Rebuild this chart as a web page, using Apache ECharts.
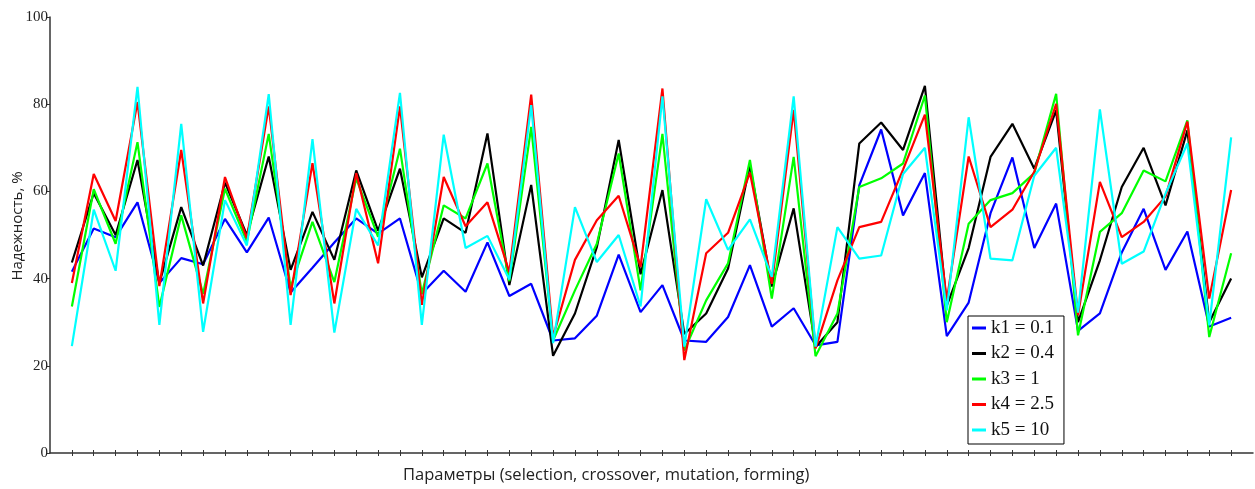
<!DOCTYPE html>
<html>
<head>
<meta charset="utf-8">
<script src="https://cdn.jsdelivr.net/npm/echarts@6/dist/echarts.min.js"></script>
<style>
  html, body { margin: 0; padding: 0; background: #fff; }
  #chart { width: 1255px; height: 489px; }
</style>
</head>
<body>
<div id="chart"></div>
<script>
// параметры (номер набора) 1..54
var params = [];
for (var n = 1; n <= 54; n++) params.push(n);

var names = ['k1 = 0.1', 'k2 = 0.4', 'k3 = 1', 'k4 = 2.5', 'k5 = 10'];
var colors = ['#0000ff', '#000000', '#00ff00', '#ff0000', '#00ffff'];

var k1 = [41.6, 51.5, 49.5, 57.5, 39, 44.7, 43.3, 53.7, 46, 54, 36.8, 42.5, 48.3, 53.8, 50.3, 53.8, 36.5, 41.8, 37, 48.3,
          36, 38.8, 25.8, 26.3, 31.5, 45.5, 32.3, 38.5, 25.8, 25.5, 31.2, 43.1, 29, 33.2, 24.7, 25.5, 61.4, 74.2, 54.5, 64.2,
          26.8, 34.5, 55, 67.8, 47, 57.2, 28, 32, 46, 56, 42, 50.8, 29, 31];
var k2 = [43.7, 59.6, 50, 67.2, 39, 56.4, 43, 62, 50, 68, 42, 55.3, 44.3, 64.8, 51, 65.2, 40.3, 53.8, 50.5, 73.3,
          38.5, 61.5, 22.3, 32, 47.2, 71.8, 41, 60.3, 27.3, 32, 42.3, 66, 38.2, 56.1, 24.3, 30, 71, 75.8, 69.5, 84.2,
          33.8, 47, 67.9, 75.5, 65.2, 78.6, 30, 44.2, 61, 70, 56.8, 74, 30, 40];
var k3 = [33.6, 60.5, 48, 71.3, 33.5, 54.5, 36.5, 60.6, 48.5, 73.2, 38, 53, 39.2, 63, 49.6, 69.8, 36.5, 56.8, 53.8, 66.4,
          39.4, 74.8, 25.8, 37.3, 48, 68.7, 37.3, 73.2, 23.5, 35, 43.5, 67.2, 35.4, 67.9, 22.2, 32, 61, 63, 66.4, 82,
          30, 52.6, 58, 59.6, 64.2, 82.4, 27, 50.7, 55, 64.8, 62.3, 76.3, 26.6, 45.8];
var k4 = [39, 64, 53.2, 80.5, 38.3, 69.5, 34.3, 63.3, 49.2, 79.5, 36.2, 66.5, 34.3, 64.2, 43.5, 79.5, 34, 63.3, 52, 57.5,
          41.5, 82.2, 26.6, 44.3, 53.4, 59, 42.7, 83.6, 21.3, 45.8, 50.5, 64.3, 38.8, 78.7, 24, 39.6, 51.8, 53, 65, 77.6,
          35, 68, 51.8, 55.8, 64.5, 80.1, 31.6, 62.2, 49.5, 53, 58.8, 76, 35.4, 60.3];
var k5 = [24.5, 55.8, 41.8, 84, 29.4, 75.5, 27.8, 58, 47.6, 82.3, 29.4, 72, 27.6, 56, 47.6, 82.6, 29.4, 73, 47, 49.8,
          39.8, 79.8, 25.2, 56.4, 43.8, 50, 33.6, 81.8, 24.4, 58.2, 46.6, 53.6, 40.4, 81.8, 24.4, 51.8, 44.6, 45.3, 64, 70,
          32.7, 77, 44.6, 44.2, 63.6, 70, 32.2, 78.8, 43.4, 46.2, 59.5, 71, 29.3, 72.4];

var yTicks = [0, 20, 40, 60, 80, 100];
var allSeries = [k1, k2, k3, k4, k5];

function pairs(vals) {
    var out = [];
    for (var i = 0; i < vals.length; i++) out.push([params[i], vals[i]]);
    return out;
}

var chart = echarts.init(document.getElementById('chart'));

var series = [];
for (var s = 0; s < allSeries.length; s++) {
    series.push({
        name: names[s],
        type: 'line',
        xAxisIndex: 0,
        data: pairs(allSeries[s]),
        showSymbol: false,
        symbol: 'none',
        lineStyle: { color: colors[s], width: 2.2 },
        itemStyle: { color: colors[s] }
    });
}

var option = {
    animation: false,
    backgroundColor: '#fff',
    grid: { left: 50, right: 2, top: 17, bottom: 36, containLabel: false, outerBoundsMode: 'none' },
    xAxis: [{
        type: 'value',
        min: 0,
        max: 55,
        axisLine: { lineStyle: { color: '#333', width: 1.5 } },
        axisTick: { show: true, length: 3, customValues: params, lineStyle: { color: '#333' } },
        axisLabel: { show: false },
        splitLine: { show: false }
    }, {
        // второй ось - только засечки внутрь
        type: 'value',
        min: 0,
        max: 55,
        position: 'bottom',
        axisLine: { show: false },
        axisTick: { show: true, inside: true, length: 3, customValues: params, lineStyle: { color: '#333' } },
        axisLabel: { show: false },
        splitLine: { show: false }
    }],
    yAxis: {
        type: 'value',
        min: 0,
        max: 100,
        interval: 20,
        axisLine: { show: true, lineStyle: { color: '#333', width: 1.5 } },
        axisTick: { show: true, length: 4, lineStyle: { color: '#333' } },
        axisLabel: {
            margin: 2,
            fontFamily: 'Liberation Serif',
            fontSize: 15,
            color: '#222',
            customValues: yTicks
        },
        splitLine: { show: false }
    },
    legend: {
        orient: 'vertical',
        left: 968,
        top: 316,
        data: names,
        icon: 'rect',
        itemWidth: 14,
        itemHeight: 3,
        itemGap: 5.5,
        padding: [2, 10, 4, 4],
        backgroundColor: '#fff',
        borderColor: '#000',
        borderWidth: 1,
        borderRadius: 0,
        textStyle: { fontFamily: 'Liberation Serif', fontSize: 19, color: '#111', lineHeight: 20 }
    },
    graphic: [{
        type: 'text',
        left: 403,
        top: 467,
        style: {
            text: 'Параметры (selection, crossover, mutation, forming)',
            font: '16.5px "Open Sans"',
            fill: '#222'
        }
    }, {
        type: 'text',
        x: 18,
        y: 226,
        rotation: Math.PI / 2,
        style: {
            text: 'Надежность, %',
            font: '15px "Open Sans"',
            fill: '#222',
            align: 'center',
            verticalAlign: 'middle'
        }
    }],
    series: series
};

chart.setOption(option);
</script>
</body>
</html>
